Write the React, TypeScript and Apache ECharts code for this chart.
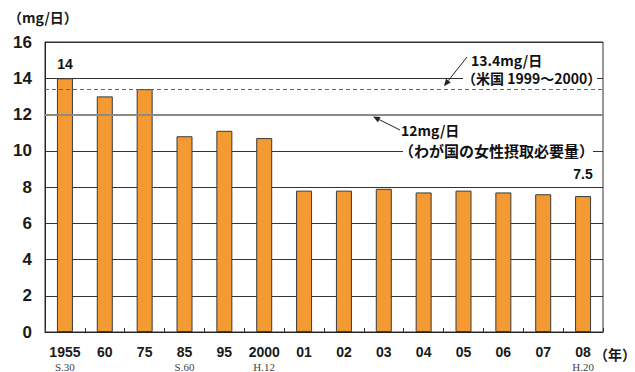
import React, { useEffect, useRef } from "react";
import * as echarts from "echarts";

// Year categories, era sub-labels and daily iron intake values (mg/日)
const years = ["1955", "60", "75", "85", "95", "2000", "01", "02", "03", "04", "05", "06", "07", "08"];
const eraLabels = ["S.30", "", "", "S.60", "", "H.12", "", "", "", "", "", "", "", "H.20"];
const intake = [14, 13.0, 13.4, 10.8, 11.1, 10.7, 7.8, 7.8, 7.9, 7.7, 7.8, 7.7, 7.6, 7.5];
const labelledIndex = [0, 13];
const usReference = 13.4;
const jpRequirement = 12;

const SANS = "'Liberation Sans', 'Noto Sans CJK JP', sans-serif";
const CJK = "'Noto Sans CJK JP', 'Liberation Sans', sans-serif";
const SERIF = "'Liberation Serif', serif";

function arrow(x0: number, y0: number, x1: number, y1: number) {
  const dx = x1 - x0;
  const dy = y1 - y0;
  const len = Math.sqrt(dx * dx + dy * dy);
  const ux = dx / len;
  const uy = dy / len;
  const hl = 7;
  const hw = 3;
  const bx = x1 - ux * hl;
  const by = y1 - uy * hl;
  return [
    {
      type: "line",
      shape: { x1: x0, y1: y0, x2: bx, y2: by },
      style: { stroke: "#222", lineWidth: 1 },
      z: 20,
    },
    {
      type: "polygon",
      shape: {
        points: [
          [x1, y1],
          [bx - uy * hw, by + ux * hw],
          [bx + uy * hw, by - ux * hw],
        ],
      },
      style: { fill: "#222" },
      z: 20,
    },
  ];
}

export default function App() {
  const ref = useRef<HTMLDivElement>(null);

  useEffect(() => {
    if (!ref.current) return;
    const chart = echarts.init(ref.current, null, { renderer: "svg" });

    const barData = intake.map((v, i) => {
      if (labelledIndex.includes(i)) {
        return {
          value: v,
          label: {
            show: true,
            position: "top",
            distance: i === 0 ? 7 : 15,
            formatter: String(v),
            fontFamily: SANS,
            fontWeight: "bold",
            fontSize: 14,
            color: "#111",
          },
        };
      }
      return { value: v };
    });

    chart.setOption({
      animation: false,
      grid: {
        left: 45,
        right: 32,
        top: 42,
        bottom: 38,
        show: true,
        borderColor: "#333",
        borderWidth: 1,
        backgroundColor: "transparent",
      },
      xAxis: {
        type: "category",
        data: years,
        boundaryGap: true,
        axisLine: { lineStyle: { color: "#222", width: 1 } },
        axisTick: { show: true, inside: true, length: 4, lineStyle: { color: "#333" } },
        axisLabel: {
          margin: 12,
          interval: 0,
          formatter: (v: string, i: number) =>
            `{a|${v}}` + (eraLabels[i] ? `\n{b|${eraLabels[i]}}` : ""),
          rich: {
            a: { fontFamily: SANS, fontWeight: "bold", fontSize: 14, color: "#1a1a1a", lineHeight: 16 },
            b: { fontFamily: SERIF, fontSize: 11, color: "#444", lineHeight: 13 },
          },
        },
      },
      yAxis: {
        type: "value",
        min: 0,
        max: 16,
        interval: 2,
        axisLine: { show: true, lineStyle: { color: "#222", width: 1 } },
        axisTick: { show: false },
        splitLine: { show: true, lineStyle: { color: "#333", width: 1 } },
        axisLabel: {
          margin: 13,
          fontFamily: SANS,
          fontWeight: "bold",
          fontSize: 17,
          color: "#1a1a1a",
        },
      },
      series: [
        {
          // reference lines sit behind the bars
          type: "line",
          data: [],
          z: 1,
          silent: true,
          markLine: {
            symbol: "none",
            silent: true,
            label: { show: false },
            data: [
              { yAxis: usReference, lineStyle: { color: "#666", type: [4, 3], width: 1 } },
              { yAxis: jpRequirement, lineStyle: { color: "#8a8a8a", type: "solid", width: 2 } },
            ],
          },
        },
        {
          type: "bar",
          data: barData,
          barWidth: 16,
          z: 3,
          itemStyle: { color: "#F39A32", borderColor: "#3a3a3a", borderWidth: 1 },
        },
      ],
    });

    const py = (v: number) => chart.convertToPixel({ yAxisIndex: 0 }, v) as number;
    const y14 = py(14);
    const y10 = py(10);
    const yUs = py(usReference);
    const yJp = py(jpRequirement);

    chart.setOption({
      graphic: [
        {
          type: "text",
          left: 8,
          top: 10,
          style: { text: "（mg/日）", font: `bold 14px ${CJK}`, fill: "#1a1a1a" },
        },
        {
          type: "text",
          x: 594,
          y: 354,
          style: {
            text: "（年）",
            font: `bold 14px ${CJK}`,
            fill: "#1a1a1a",
            textVerticalAlign: "middle",
          },
        },
        // white gaps in the grid lines behind the annotation texts
        { type: "rect", shape: { x: 463, y: y14 - 6, width: 134, height: 12 }, style: { fill: "#fff" }, z: 10 },
        { type: "rect", shape: { x: 403, y: y10 - 7, width: 190, height: 14 }, style: { fill: "#fff" }, z: 10 },
        {
          type: "text",
          x: 471,
          y: 60,
          z: 20,
          style: { text: "13.4mg/日", font: `bold 14px ${CJK}`, fill: "#111", textVerticalAlign: "middle" },
        },
        {
          type: "text",
          x: 462,
          y: y14,
          z: 20,
          style: {
            text: "（米国 1999～2000）",
            font: `bold 14px ${CJK}`,
            fill: "#111",
            textVerticalAlign: "middle",
          },
        },
        {
          type: "text",
          x: 401,
          y: 130,
          z: 20,
          style: { text: "12mg/日", font: `bold 14px ${CJK}`, fill: "#111", textVerticalAlign: "middle" },
        },
        {
          type: "text",
          x: 399,
          y: y10,
          z: 20,
          style: {
            text: "（わが国の女性摂取必要量）",
            font: `bold 15px ${CJK}`,
            fill: "#111",
            textVerticalAlign: "middle",
          },
        },
        ...arrow(467, 57, 444, yUs - 3),
        ...arrow(400, 130, 373, yJp + 2),
      ],
    });

    return () => chart.dispose();
  }, []);

  return (
    <div
      ref={ref}
      style={{ position: "absolute", left: 0, top: 0, width: 635, height: 372, background: "#fff" }}
    />
  );
}
